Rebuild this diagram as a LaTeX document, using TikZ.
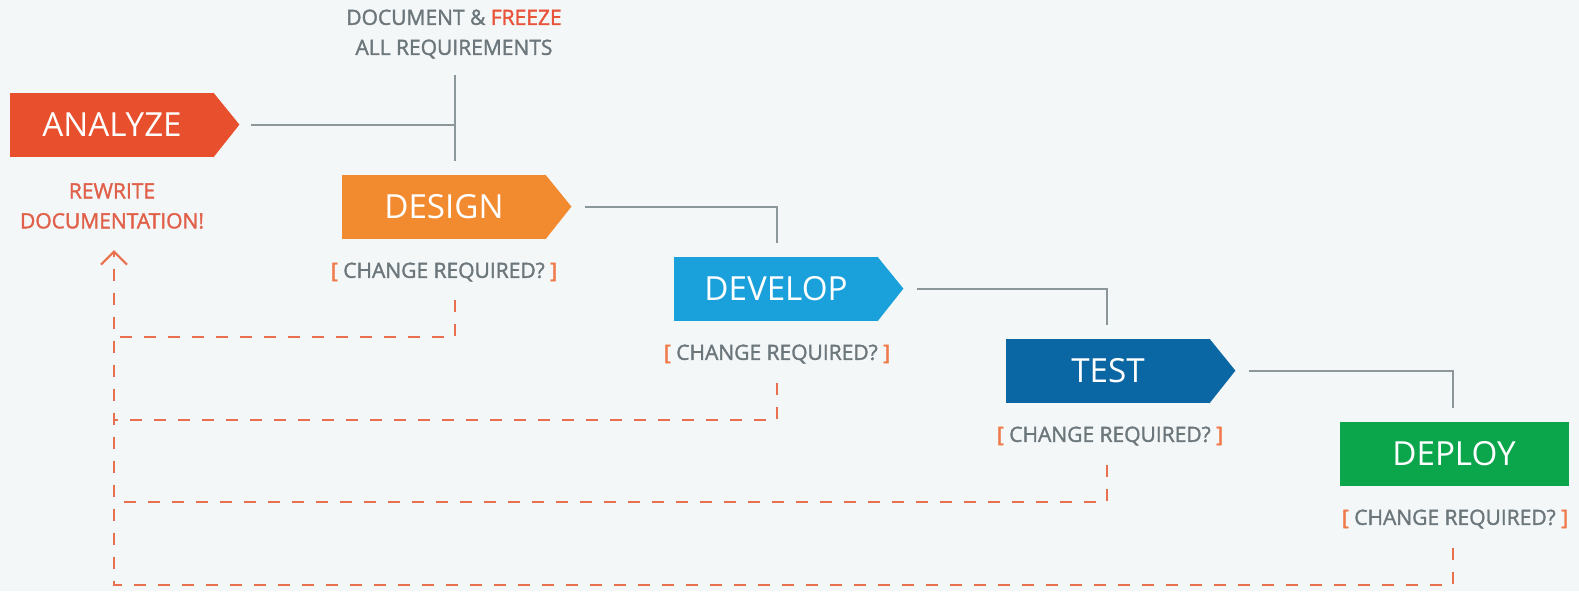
\documentclass[tikz,border=0pt]{standalone}
\usepackage{fontspec}
\setmainfont{Open Sans}
\newfontfamily\semib{Open Sans}[FakeBold=1.6]
\usetikzlibrary{arrows.meta}

\definecolor{bgc}{HTML}{F4F7F8}
\definecolor{analyzec}{HTML}{E84F2C}
\definecolor{designc}{HTML}{F28B30}
\definecolor{developc}{HTML}{1AA1DB}
\definecolor{testc}{HTML}{0A67A3}
\definecolor{deployc}{HTML}{0BA54B}
\definecolor{linkc}{HTML}{8C979B}
\definecolor{notec}{HTML}{6C777C}
\definecolor{freezec}{HTML}{E8533A}
\definecolor{brkc}{HTML}{F07A4A}
\definecolor{backc}{HTML}{E8704E}
\definecolor{rewritec}{HTML}{E0604A}

\begin{document}
\begin{tikzpicture}[x=0.5pt, y=-0.5pt,
    stage/.style={rectangle, fill=#1, text=white, inner sep=0pt,
        minimum width=102pt, minimum height=32pt,
        font=\fontsize{16.6}{19}\selectfont},
    note/.style={text=notec, align=center, inner sep=0pt,
        font=\semib\fontsize{10.5}{15}\selectfont},
    link/.style={draw=linkc, line width=1pt},
    back/.style={draw=backc, line width=1.1pt, dash pattern=on 6pt off 6pt}]

    \fill[bgc] (0,0) rectangle (1579,591);
    \useasboundingbox (0,0) rectangle (1579,591);

    \node[stage=analyzec] (analyze) at (112,125) {ANALYZE};
    \node[stage=designc] (design) at (444,207) {DESIGN};
    \node[stage=developc] (develop) at (776,289) {DEVELOP};
    \node[stage=testc] (test) at (1108,371) {TEST};
    \node[stage=deployc, minimum width=114.5pt] (deploy) at (1454,454) {DEPLOY};

    % pointed ends
    \fill[analyzec] ([xshift=-0.5pt]analyze.north east) -- ++(26,32) -- ([xshift=-0.5pt]analyze.south east) -- cycle;
    \fill[designc] ([xshift=-0.5pt]design.north east) -- ++(26,32) -- ([xshift=-0.5pt]design.south east) -- cycle;
    \fill[developc] ([xshift=-0.5pt]develop.north east) -- ++(26,32) -- ([xshift=-0.5pt]develop.south east) -- cycle;
    \fill[testc] ([xshift=-0.5pt]test.north east) -- ++(26,32) -- ([xshift=-0.5pt]test.south east) -- cycle;

    \node[note] (req) at (454,34) {DOCUMENT \& \textcolor{freezec}{FREEZE}\\ALL REQUIREMENTS};
    \node[note, text=rewritec] (rewrite) at (112,206) {REWRITE\\DOCUMENTATION!};
    \node[note] (chg1) at (444,272) {\textcolor{brkc}{[} CHANGE REQUIRED? \textcolor{brkc}{]}};
    \node[note] (chg2) at (777,354) {\textcolor{brkc}{[} CHANGE REQUIRED? \textcolor{brkc}{]}};
    \node[note] (chg3) at (1110,436) {\textcolor{brkc}{[} CHANGE REQUIRED? \textcolor{brkc}{]}};
    \node[note] (chg4) at (1455,519) {\textcolor{brkc}{[} CHANGE REQUIRED? \textcolor{brkc}{]}};

    \coordinate (k1) at (455,75);
    \coordinate (k2) at (777,0);
    \coordinate (k3) at (1107,0);
    \coordinate (k4) at (1453,0);
    \coordinate (c1) at (455,300);
    \coordinate (c2) at (777,383);
    \coordinate (c3) at (1107,465);
    \coordinate (c4) at (1453,548);
    \coordinate (up) at (114,250);

    \draw[link] (analyze.east) ++(37,0) -- (analyze.east -| k1);
    \draw[link] (k1) -- ([yshift=7pt]design.north -| k1);
    \draw[link] (design.east) ++(39,0) -| ([yshift=7pt]develop.north -| k2);
    \draw[link] (develop.east) ++(39,0) -| ([yshift=7pt]test.north -| k3);
    \draw[link] (test.east) ++(39,0) -| ([yshift=7pt]deploy.north -| k4);

    \draw[back] (c1) -- ++(0,37) coordinate (r1) -- (r1 -| up);
    \draw[back] (c2) -- ++(0,37) coordinate (r2) -- (r2 -| up);
    \draw[back] (c3) -- ++(0,37) coordinate (r3) -- (r3 -| up);
    \draw[back, -{Straight Barb[length=6.5pt, width=13pt]}]
        (c4) -- ++(0,37) coordinate (r4) -- (r4 -| up) -- (up);
\end{tikzpicture}
\end{document}
